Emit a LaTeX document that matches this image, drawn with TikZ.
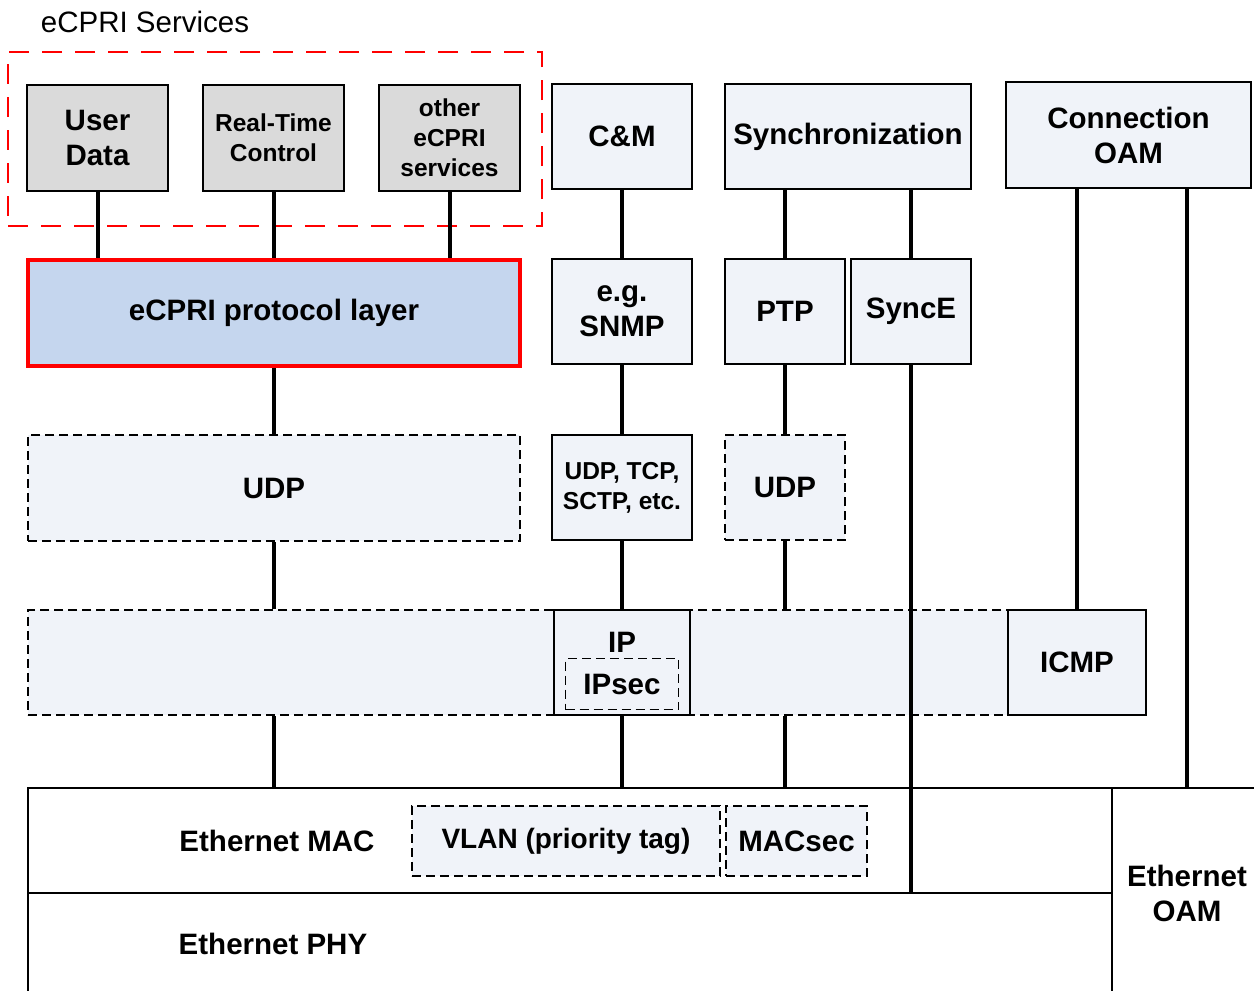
\documentclass[tikz,border=0pt]{standalone}
\usepackage{fontspec}
\setmainfont{Liberation Sans}
\usetikzlibrary{positioning}

\definecolor{lightfill}{HTML}{F0F3F9}
\definecolor{grayfill}{HTML}{DADADA}
\definecolor{bluefill}{HTML}{C5D6EE}

\tikzset{
  box/.style={draw, line width=1.5pt, fill=lightfill, inner sep=0pt, align=center,
    font=\bfseries\fontsize{29.5}{35}\selectfont},
  smallbox/.style={box, font=\bfseries\fontsize{24.5}{30}\selectfont},
  dashbox/.style={box, dash pattern=on 9pt off 5pt},
  lbl/.style={inner sep=0pt, font=\bfseries\fontsize{29.5}{35}\selectfont},
  link/.style={line width=4pt},
}

\begin{document}
\begin{tikzpicture}[x=1pt,y=-1pt]
\useasboundingbox (0,0) rectangle (1254,991);

\def\xa{97.5}
\def\xb{273.5}
\def\xc{449.5}
\def\xd{622}
\def\xe{785}
\def\xf{911}
\def\xg{848}
\def\xh{1128.5}

\def\ya{138}
\def\yb{313}
\def\yc{488}
\def\yd{662.5}
\def\ye{840.5}

\node[inner sep=0pt, font=\fontsize{29.5}{35}\selectfont] (title) at (145,22) {eCPRI Services};
\node[draw=red, line width=2.5pt, dash pattern=on 20pt off 13pt, minimum width=534pt, minimum height=174pt] (services) at (275,139) {};

\node[box, fill=grayfill, minimum width=141pt, minimum height=106pt] (user) at (\xa,\ya) {User\\Data};
\node[smallbox, fill=grayfill, minimum width=141pt, minimum height=106pt] (rtc) at (\xb,\ya) {Real-Time\\Control};
\node[smallbox, fill=grayfill, minimum width=141pt, minimum height=106pt] (other) at (\xc,\ya) {other\\eCPRI\\services};
\node[box, minimum width=140pt, minimum height=105pt] (cm) at (\xd,136.5) {C\&M};
\node[box, minimum width=246pt, minimum height=105pt] (sync) at (\xg,136.5) {Synchronization};
\node[box, minimum width=245pt, minimum height=106pt] (conn) at (\xh,135) {Connection\\OAM};

\node[box, draw=red, line width=4pt, fill=bluefill, minimum width=492pt, minimum height=106pt] (proto) at (274,\yb) {eCPRI protocol layer};
\node[box, minimum width=140pt, minimum height=105pt] (snmp) at (\xd,311.5) {e.g.\\SNMP};
\node[box, minimum width=120pt, minimum height=105pt] (ptp) at (\xe,311.5) {PTP};
\node[box, minimum width=120pt, minimum height=105pt] (synce) at (\xf,311.5) {SyncE};

\node[dashbox, minimum width=492pt, minimum height=106pt] (udpl) at (274,\yc) {UDP};
\node[smallbox, minimum width=140pt, minimum height=105pt] (udpt) at (\xd,487.5) {UDP, TCP,\\SCTP, etc.};
\node[dashbox, minimum width=120pt, minimum height=105pt] (udpr) at (\xe,487.5) {UDP};

\node[dashbox, minimum width=980pt, minimum height=105pt] (ipband) at (518,\yd) {};
\node[box, minimum width=136pt, minimum height=105pt] (ip) at (\xd,\yd) {};
\node[lbl] (iplabel) at (\xd,642) {IP};
\node[dashbox, minimum width=113pt, minimum height=51pt] (ipsec) at (\xd,684) {IPsec};
\node[box, minimum width=138pt, minimum height=105pt] (icmp) at (1077,\yd) {ICMP};

\node[box, fill=white, minimum width=1084pt, minimum height=105pt] (ethmac) at (570,\ye) {};
\node[box, fill=white, minimum width=1084pt, minimum height=104pt] (ethphy) at (570,945) {};
\node[box, fill=white, minimum width=150pt, minimum height=210pt] (ethoam) at (1187,893) {Ethernet\\OAM};
\node[lbl] (maclabel) at (277,841) {Ethernet MAC};
\node[lbl] (phylabel) at (273,944) {Ethernet PHY};
\node[dashbox, font=\bfseries\fontsize{28}{33}\selectfont, minimum width=308pt, minimum height=70pt] (vlan) at (566,841) {VLAN (priority tag)};
\node[dashbox, minimum width=141pt, minimum height=70pt] (macsec) at (796.5,841) {MACsec};

\draw[link] (user.south) -- (user.south |- proto.north);
\draw[link] (rtc.south) -- (rtc.south |- proto.north);
\draw[link] (other.south) -- (other.south |- proto.north);
\draw[link] (proto.south) -- (udpl.north);
\draw[link] (udpl.south) -- (udpl.south |- ipband.north);
\draw[link] (udpl.south |- ipband.south) -- (udpl.south |- ethmac.north);

\draw[link] (cm.south) -- (snmp.north);
\draw[link] (snmp.south) -- (udpt.north);
\draw[link] (udpt.south) -- (ip.north);
\draw[link] (ip.south) -- (ip.south |- ethmac.north);

\draw[link] (ptp.north |- sync.south) -- (ptp.north);
\draw[link] (ptp.south) -- (udpr.north);
\draw[link] (udpr.south) -- (udpr.south |- ipband.north);
\draw[link] (udpr.south |- ipband.south) -- (udpr.south |- ethmac.north);

\draw[link] (synce.north |- sync.south) -- (synce.north);
\draw[link] (synce.south) -- (synce.south |- ethmac.south);

\draw[link] (icmp.north |- conn.south) -- (icmp.north);
\draw[link] (ethoam.north |- conn.south) -- (ethoam.north);

\end{tikzpicture}
\end{document}
